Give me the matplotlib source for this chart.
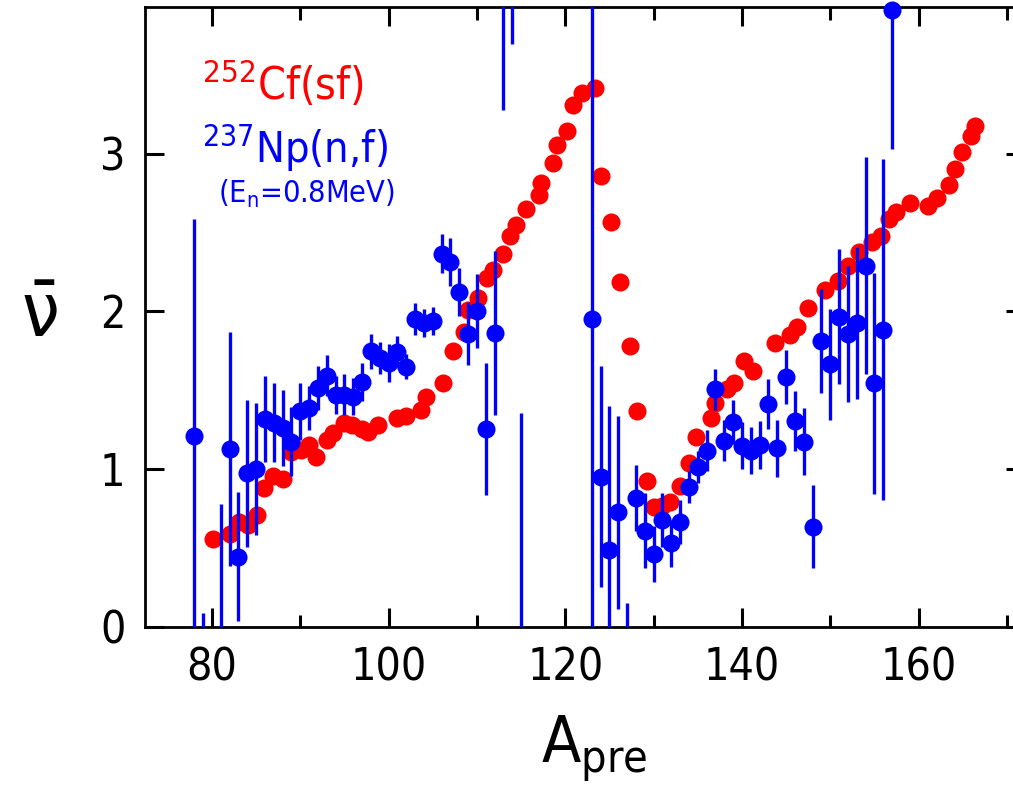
import numpy as np
import matplotlib
matplotlib.use("Agg")
import matplotlib.pyplot as plt
from matplotlib import font_manager
from matplotlib.ticker import MultipleLocator

# narrow sans font if available, else condensed DejaVu
names = {f.name for f in font_manager.fontManager.ttflist}
if 'Liberation Sans Narrow' in names:
    FONT = 'Liberation Sans Narrow'
    plt.rcParams['font.family'] = [FONT, 'DejaVu Sans']
else:
    FONT = 'DejaVu Sans'
    plt.rcParams['font.family'] = ['DejaVu Sans']
    plt.rcParams['font.stretch'] = 'condensed'
plt.rcParams['mathtext.fontset'] = 'custom'
plt.rcParams['mathtext.rm'] = FONT + ':stretch=condensed'
plt.rcParams['mathtext.it'] = FONT + ':stretch=condensed'

# 252Cf(sf): A_pre, nu-bar
cf_a = [80.15, 82.0, 83.1, 84.1, 85.1, 85.9, 86.95, 88.0, 89.0, 90.1, 91.0, 91.8,
        93.0, 93.7, 94.95, 95.8, 96.95, 97.7, 98.75, 100.9, 102.0, 103.7, 104.2,
        106.2, 107.3, 108.5, 109.0, 110.1, 111.1, 111.8, 112.9, 113.7, 114.4,
        115.6, 117.0, 117.3, 118.65, 119.1, 120.2, 120.85, 121.9, 123.4, 124.0,
        125.15, 126.2, 127.3, 128.1, 129.2, 130.0, 131.0, 131.9, 133.0, 134.0,
        134.8, 136.55, 136.9, 138.3, 139.05, 140.2, 141.2, 143.8, 145.45, 146.2,
        147.5, 149.4, 150.9, 152.06, 153.3, 154.7, 155.8, 156.6, 157.5, 159.05,
        161.05, 162.1, 163.4, 164.1, 164.9, 165.96, 166.4]
cf_v = [0.556, 0.59, 0.665, 0.645, 0.71, 0.88, 0.96, 0.94, 1.112, 1.12, 1.155, 1.08,
        1.186, 1.228, 1.29, 1.28, 1.255, 1.235, 1.281, 1.323, 1.34, 1.376, 1.455,
        1.546, 1.752, 1.869, 2.01, 2.088, 2.215, 2.262, 2.362, 2.478, 2.55,
        2.649, 2.737, 2.816, 2.94, 3.057, 3.146, 3.311, 3.385, 3.417, 2.856,
        2.564, 2.187, 1.782, 1.372, 0.927, 0.759, 0.77, 0.795, 0.893, 1.038,
        1.205, 1.323, 1.421, 1.508, 1.548, 1.683, 1.623, 1.798, 1.852, 1.9,
        2.021, 2.137, 2.19, 2.29, 2.38, 2.44, 2.48, 2.584, 2.63, 2.687,
        2.668, 2.72, 2.803, 2.905, 3.008, 3.11, 3.178]

# 237Np(n,f), En=0.8 MeV: A_pre, nu-bar, error
np_a = [78, 79, 81, 82, 83, 84, 85, 86, 87, 88, 89, 90, 91, 92, 93, 94, 95, 96, 97,
        98, 99, 100, 101, 102, 103, 104, 105, 106, 107, 108, 109, 110, 111, 112,
        113, 114, 115, 123, 124, 125, 126, 127, 128, 129, 130, 131, 132, 133, 134,
        135, 136, 137, 138, 139, 140, 141, 142, 143, 144, 145, 146, 147, 148, 149,
        150, 151, 152, 153, 154, 155, 156, 157]
np_v = [1.213, -0.3, -0.2, 1.127, 0.446, 0.975, 1.0, 1.319, 1.296, 1.26, 1.175,
        1.366, 1.387, 1.514, 1.592, 1.471, 1.471, 1.461, 1.552, 1.748, 1.704, 1.672,
        1.746, 1.651, 1.951, 1.926, 1.94, 2.366, 2.313, 2.123, 1.858, 2.004, 1.254,
        1.863, 4.3, 4.2, -0.2, 1.951, 0.953, 0.488, 0.727, -0.3, 0.816, 0.611,
        0.463, 0.679, 0.531, 0.668, 0.886, 1.013, 1.116, 1.507, 1.18, 1.302, 1.15,
        1.118, 1.154, 1.414, 1.132, 1.585, 1.306, 1.175, 0.636, 1.814, 1.664,
        1.968, 1.858, 1.926, 2.291, 1.546, 1.884, 3.913]
np_err = [1.37, 0.39, 0.98, 0.74, 0.41, 0.465, 0.42, 0.27, 0.25, 0.24, 0.22, 0.18,
          0.14, 0.14, 0.13, 0.12, 0.13, 0.12, 0.12, 0.11, 0.1, 0.12, 0.1, 0.08, 0.1,
          0.09, 0.09, 0.125, 0.15, 0.15, 0.2, 0.235, 0.42, 0.52, 1.025, 0.505, 1.555,
          2.2, 0.70, 0.91, 0.61, 0.45, 0.21, 0.24, 0.18, 0.17, 0.15, 0.14, 0.1, 0.1,
          0.13, 0.13, 0.13, 0.14, 0.15, 0.15, 0.15, 0.16, 0.18, 0.17, 0.19, 0.21,
          0.265, 0.33, 0.35, 0.43, 0.43, 0.48, 0.686, 0.70, 1.08, 0.88]

fig = plt.figure(figsize=(10.13, 7.86), dpi=100)
ax = fig.add_axes([0.1431, 0.2023, 0.8689, 0.7888])

xlo, xhi = 72.41, 172.07
ylo, yhi = 0.0, 3.93

ax.plot(cf_a, cf_v, 'o', color='red', ms=13, mec='none', zorder=2)
ax.errorbar(np_a, np_v, yerr=np_err, fmt='none', ecolor='blue', elinewidth=2.4,
            capsize=0, zorder=3)
a = np.array(np_a)
v = np.array(np_v)
inside = (v >= ylo) & (v <= yhi)
ax.plot(a[inside], v[inside], 'o', color='blue', ms=13, mec='none', zorder=4,
        clip_on=False)

ax.set_xlim(xlo, xhi)
ax.set_ylim(ylo, yhi)
ax.xaxis.set_major_locator(MultipleLocator(20))
ax.xaxis.set_minor_locator(MultipleLocator(10))
ax.yaxis.set_major_locator(MultipleLocator(1))
ax.tick_params(which='both', direction='in', top=True, right=True, width=2.2,
               labelsize=32, pad=14)
ax.tick_params(which='major', length=14)
ax.tick_params(which='minor', length=9)
for s in ax.spines.values():
    s.set_linewidth(2.0)

ax.set_xlabel(r'A$_{\mathregular{pre}}$', fontsize=46, labelpad=12)
ax.xaxis.set_label_coords(0.51, -0.14)
ax.set_ylabel(r'$\bar{\mathregular{\nu}}$', fontsize=54, rotation=0, va='center')
ax.yaxis.set_label_coords(-0.12, 0.5)

ax.text(0.0644, 0.85, r'$^{252}$Cf(sf)', color='red', fontsize=32,
        transform=ax.transAxes, va='baseline')
ax.text(0.0644, 0.748, r'$^{237}$Np(n,f)', color='blue', fontsize=31,
        transform=ax.transAxes, va='baseline')
ax.text(0.083, 0.684, r'(E$_{\mathregular{n}}$=0.8MeV)', color='blue', fontsize=22,
        transform=ax.transAxes, va='baseline')

fig.savefig('out.png', dpi=100)
